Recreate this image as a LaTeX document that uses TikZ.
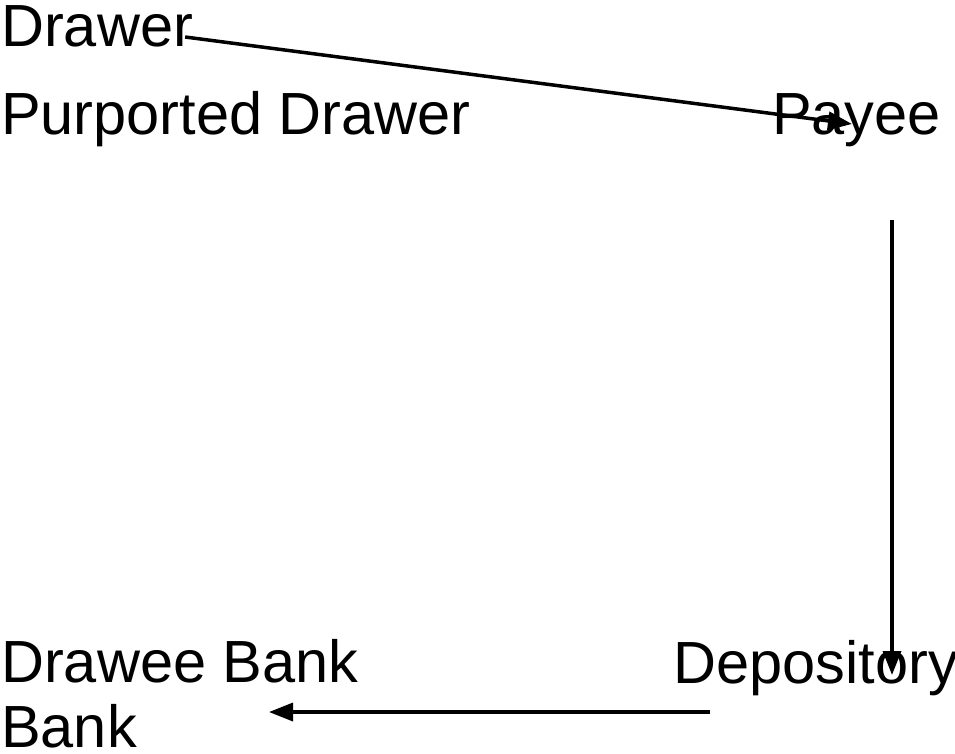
\documentclass[tikz,border=0pt]{standalone}
\usepackage{fontspec}
\setmainfont{Liberation Sans}
\usetikzlibrary{calc,arrows.meta,positioning}
\tikzstyle{party}=[inner sep=0pt,anchor=base west,align=left,font=\fontsize{59.5}{65}\selectfont]
\tikzstyle{flow}=[line width=3.5pt,-{Triangle[length=24pt,width=18pt]}]

\begin{document}
\begin{tikzpicture}[x=1pt,y=-1pt]
\useasboundingbox (0,0) rectangle (955,753);
% parties of the cheque
\node[party] (drawer) at (1,46) {Drawer};
\node[party] (purported) at (1,134) {Purported Drawer};
\node[party] (payee) at (772,134) {Payee};
\node[party] (depository) at (673.5,683) {Depository};
\node[party] (drawee) at (1,747) {Drawee Bank\\Bank};

% drawer -> payee -> depository -> drawee
\draw[flow] ($(drawer.base east)+(-8,-9)$) -- ($(payee.base west)+(80,-10)$);
\draw[flow] ($(payee.base west)+(120,86)$) -- ($(depository.base west)+(218.5,-8)$);
\draw[flow] ($(depository.base west)+(36.5,29)$) -- ($(drawee.base west)+(268,-35)$);
\end{tikzpicture}
\end{document}
